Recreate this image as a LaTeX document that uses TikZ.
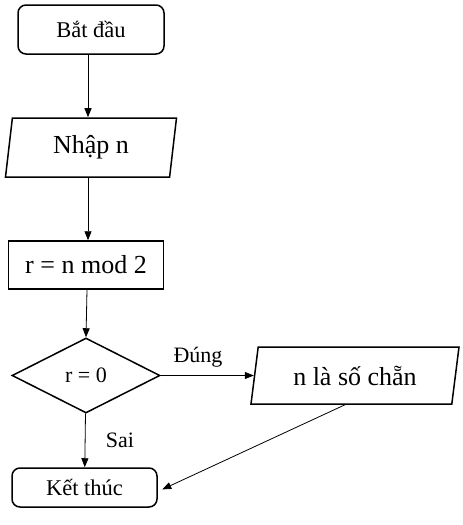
\documentclass[tikz,border=0pt]{standalone}
\usepackage{fontspec}
\setmainfont{Liberation Serif}
\usepackage{tikz}
\usetikzlibrary{positioning}
\usetikzlibrary{shapes.geometric}
\usetikzlibrary{arrows.meta}
\tikzset{
    flowchart/.style={
            node distance=118pt,
            startstop/.style={draw,rounded corners=8pt,line width=1.5pt,
                font=\fontsize{22.5}{26}\selectfont},
            io/.style={draw,trapezium,trapezium stretches body,line width=1.5pt,
                font=\fontsize{26}{30}\selectfont,inner sep=2pt},
            process/.style={draw,rectangle,line width=1.5pt,
                font=\fontsize{26}{30}\selectfont},
            decision/.style={draw,diamond,line width=1.5pt,inner sep=0pt,
                minimum width=148pt,minimum height=75pt,
                font=\fontsize{22}{26}\selectfont},
            label/.style={font=\fontsize{22}{26}\selectfont},
            arrow/.style={-{Triangle[length=9pt,width=7pt]},line width=0.8pt}
        }
    }
\begin{document}
\begin{tikzpicture}[flowchart]
    \useasboundingbox (0,0) rectangle (463pt,-525pt);
    \node (a) [startstop,minimum width=146pt,minimum height=49pt] at (91pt,-29.5pt) {Bắt đầu};
    \node (b) [io,below of=a,trapezium left angle=76,trapezium right angle=104,
        minimum width=171pt,minimum height=59pt] {Nhập n};
    \node (c) [process,below of=b,node distance=117.5pt,xshift=-5pt,
        minimum width=155pt,minimum height=48pt] {r = n mod 2};
    \node (d) [decision,below of=c,node distance=110.5pt] {r = 0};
    \node (e) [io,right of=d,node distance=269pt,trapezium left angle=73,trapezium right angle=107,
        minimum width=208pt,minimum height=57pt] {n là số chẵn};
    \node (f) [startstop,below of=d,node distance=112pt,xshift=-1.5pt,
        minimum width=145pt,minimum height=39pt] {Kết thúc};
    \draw [arrow] ([xshift=-3pt]a.south) -- ([xshift=-3pt]a.south |- b.north);
    \draw [arrow] ([xshift=-3pt]b.south) -- ([xshift=-3pt]b.south |- c.north);
    \draw [arrow] ([xshift=1pt]c.south) -- (d.north);
    \draw [arrow] (d) -- (e) node [label,pos=0.4,above=5pt] {Đúng};
    \draw [arrow] (d) -- (f) node [label,midway,right=17pt] {Sai};
    \draw [arrow,shorten >=5pt] ([xshift=-10pt]e.south) -- ([yshift=-4pt]f.east);
\end{tikzpicture}
\end{document}
